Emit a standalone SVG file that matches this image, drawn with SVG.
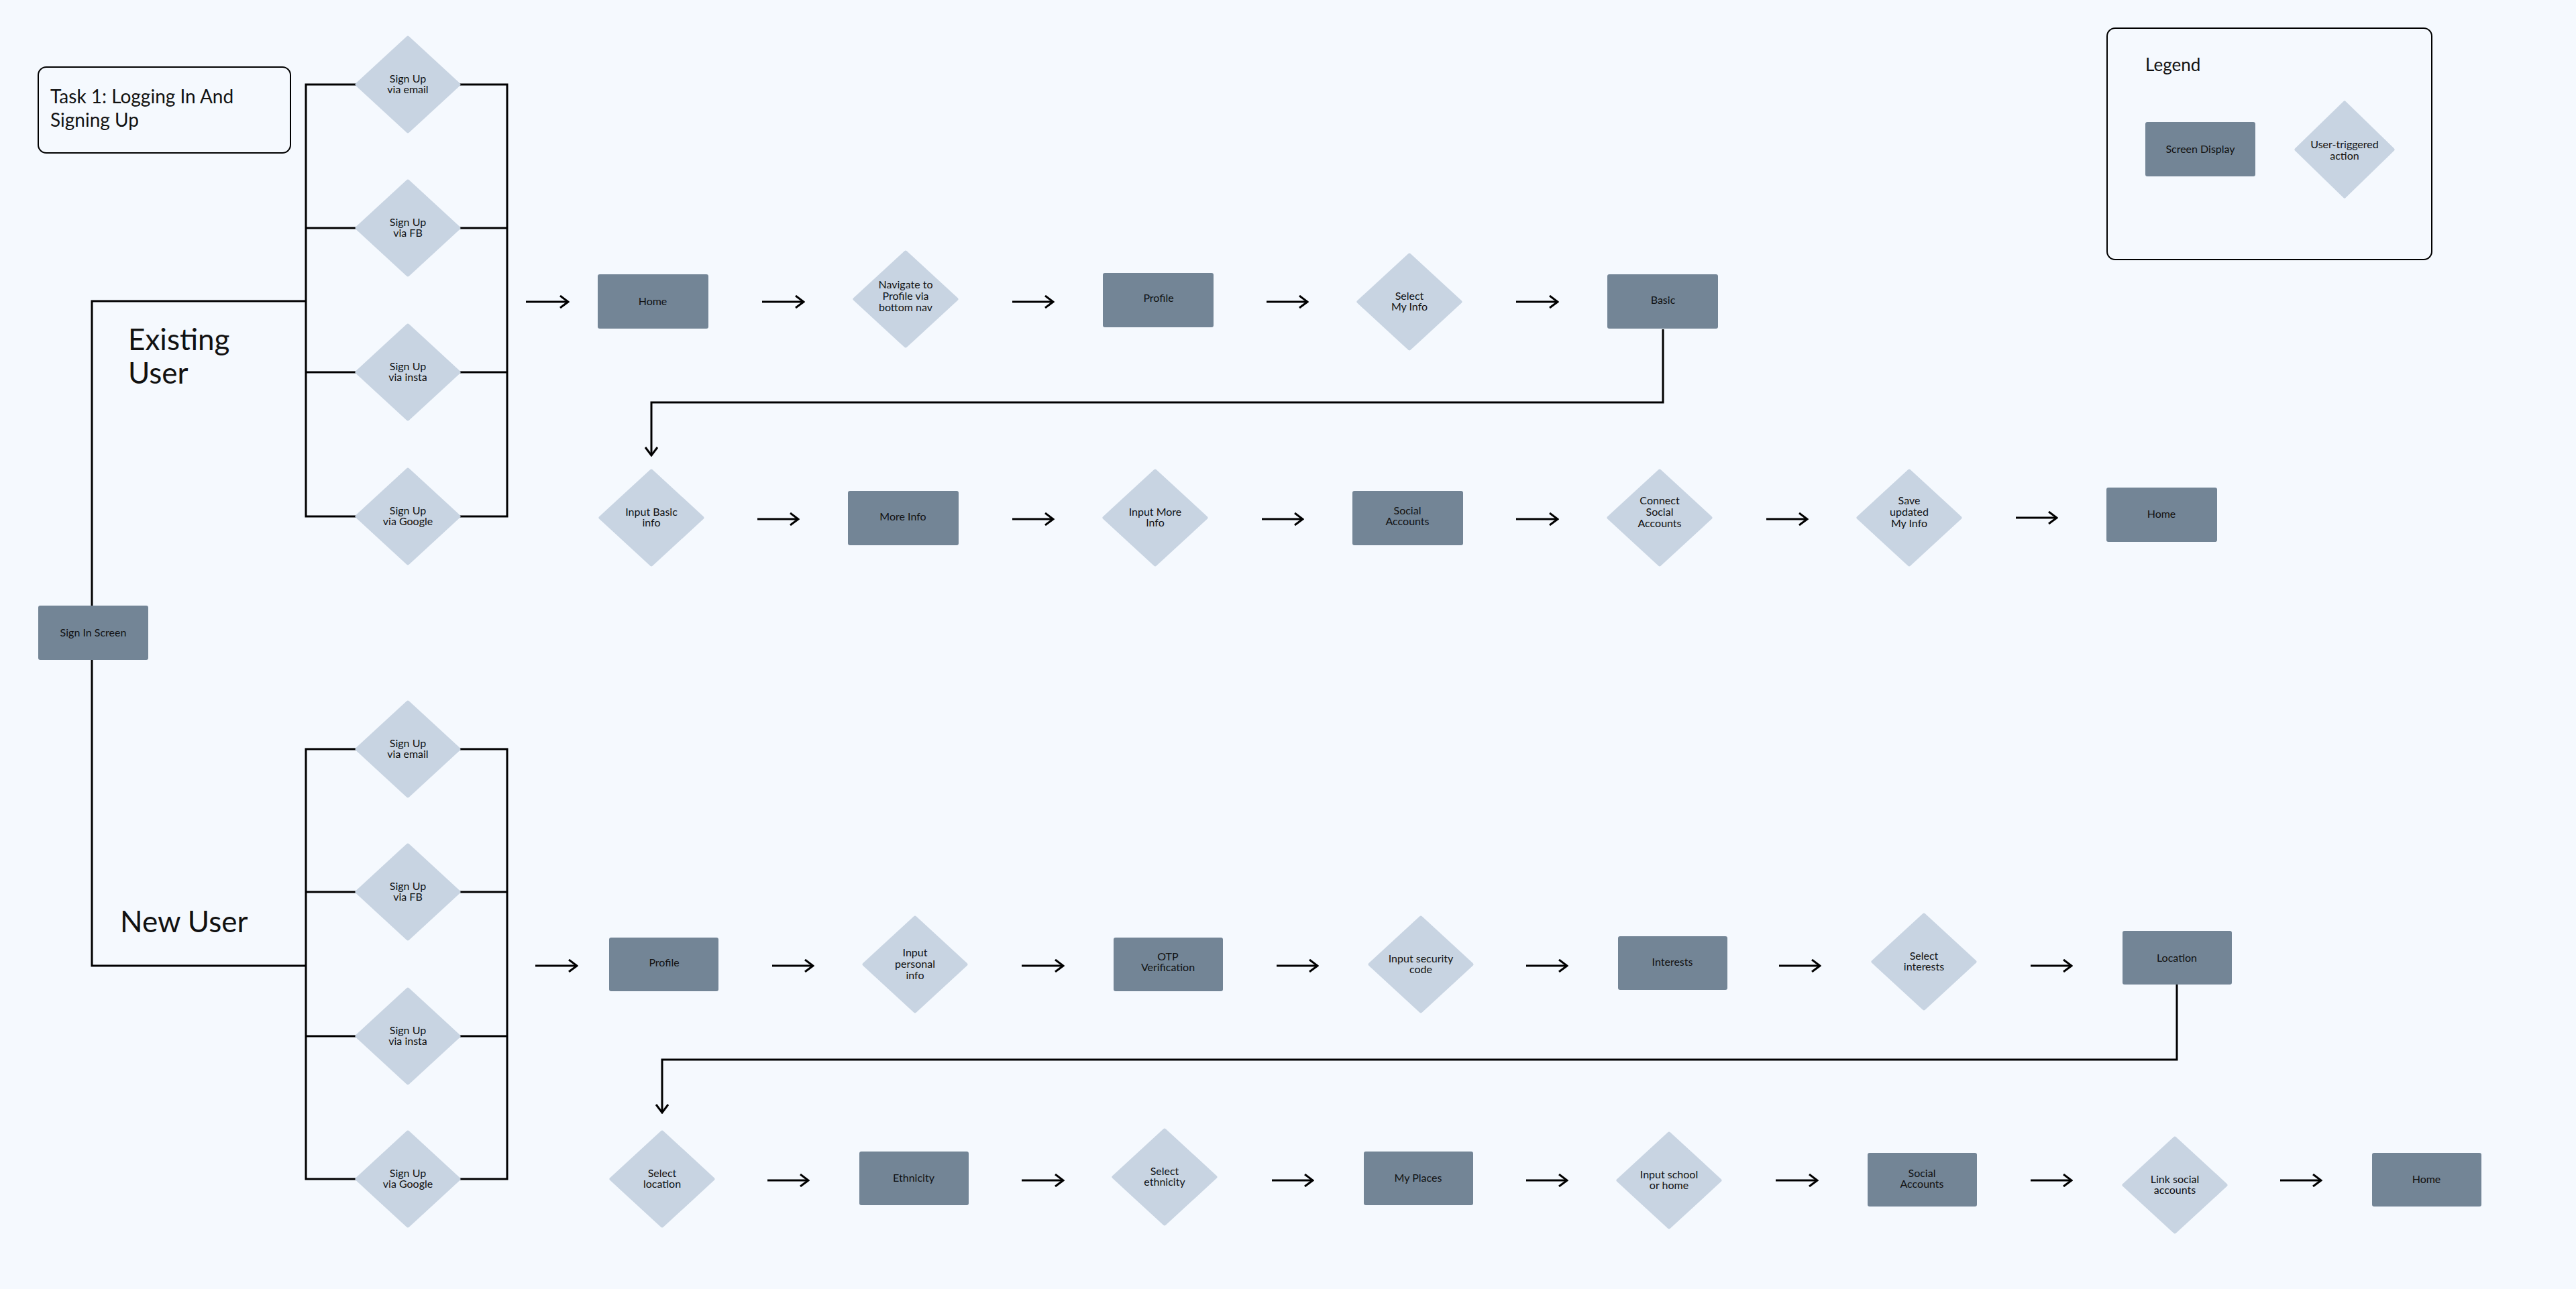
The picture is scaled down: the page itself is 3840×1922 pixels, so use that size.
<svg xmlns="http://www.w3.org/2000/svg" width="3840" height="1922" viewBox="0 0 3840 1922">
<defs>
<marker id="ah" viewBox="0 0 20 20" refX="18" refY="10" markerWidth="20" markerHeight="20" markerUnits="userSpaceOnUse" orient="auto">
<polyline points="6,1 18,10 6,19" fill="none" stroke="#000" stroke-width="3"/>
</marker>
</defs>
<style>
text{font-family:"Lato","Noto Sans",sans-serif;fill:#111;}
.n{font-size:16px;text-anchor:middle;}
.r{fill:#738596;}
.d{fill:#C8D4E2;stroke:#C8D4E2;stroke-width:5;stroke-linejoin:round;}
.c{fill:none;stroke:#000;stroke-width:3;}
.a{fill:none;stroke:#000;stroke-width:3;marker-end:url(#ah);}
.big{font-size:44px;}
</style>
<rect width="3840" height="1922" fill="#F5F9FE"/>

<g id="task"><rect x="57" y="100" width="376" height="128" rx="12" fill="none" stroke="#000" stroke-width="2"/>
<text x="75" y="154" font-size="28">Task 1: Logging In And</text><text x="75" y="189" font-size="28">Signing Up</text></g>

<g id="legend"><rect x="3141" y="42" width="484" height="345" rx="12" fill="none" stroke="#000" stroke-width="2"/>
<text x="3198" y="106" font-size="26">Legend</text>
<rect class="r" x="3198" y="182" width="164" height="81" rx="3"/><text class="n" x="3280" y="228">Screen Display</text>
<polygon class="d" points="3495,153 3567,223 3495,293 3423,223"/><text class="n" x="3495" y="221">User-triggered</text><text class="n" x="3495" y="238">action</text></g>

<g id="labels"><text class="big" x="191" y="522">Existing</text><text class="big" x="191" y="572">User</text>
<text class="big" x="179" y="1390">New User</text></g>

<g id="connectors">
<polyline class="c" points="137,903 137,449 456,449"/>
<polyline class="c" points="137,984 137,1440 456,1440"/>
<polyline class="c" points="532,126 456,126 456,770 532,770"/>
<line class="c" x1="456" y1="340" x2="532" y2="340"/><line class="c" x1="456" y1="555" x2="532" y2="555"/>
<polyline class="c" points="684,126 756,126 756,770 684,770"/>
<line class="c" x1="684" y1="340" x2="756" y2="340"/><line class="c" x1="684" y1="555" x2="756" y2="555"/>
<polyline class="c" points="532,1117 456,1117 456,1758 532,1758"/>
<line class="c" x1="456" y1="1330" x2="532" y2="1330"/><line class="c" x1="456" y1="1545" x2="532" y2="1545"/>
<polyline class="c" points="684,1117 756,1117 756,1758 684,1758"/>
<line class="c" x1="684" y1="1330" x2="756" y2="1330"/><line class="c" x1="684" y1="1545" x2="756" y2="1545"/>
<line class="a" x1="784" y1="450" x2="847" y2="450"/>
<line class="a" x1="1136" y1="450" x2="1198" y2="450"/>
<line class="a" x1="1509" y1="450" x2="1570" y2="450"/>
<line class="a" x1="1888" y1="450" x2="1949" y2="450"/>
<line class="a" x1="2260" y1="450" x2="2322" y2="450"/>
<polyline class="a" points="2479,491 2479,600 971,600 971,679"/>
<line class="a" x1="1129" y1="774" x2="1190" y2="774"/>
<line class="a" x1="1509" y1="774" x2="1570" y2="774"/>
<line class="a" x1="1881" y1="774" x2="1942" y2="774"/>
<line class="a" x1="2260" y1="774" x2="2322" y2="774"/>
<line class="a" x1="2633" y1="774" x2="2694" y2="774"/>
<line class="a" x1="3005" y1="772" x2="3066" y2="772"/>
<line class="a" x1="798" y1="1440" x2="860" y2="1440"/>
<line class="a" x1="1151" y1="1440" x2="1212" y2="1440"/>
<line class="a" x1="1523" y1="1440" x2="1585" y2="1440"/>
<line class="a" x1="1903" y1="1440" x2="1964" y2="1440"/>
<line class="a" x1="2275" y1="1440" x2="2336" y2="1440"/>
<line class="a" x1="2652" y1="1440" x2="2713" y2="1440"/>
<line class="a" x1="3027" y1="1440" x2="3088" y2="1440"/>
<polyline class="a" points="3245,1468 3245,1580 987,1580 987,1659"/>
<line class="a" x1="1144" y1="1760" x2="1205" y2="1760"/>
<line class="a" x1="1523" y1="1760" x2="1585" y2="1760"/>
<line class="a" x1="1896" y1="1760" x2="1957" y2="1760"/>
<line class="a" x1="2275" y1="1760" x2="2336" y2="1760"/>
<line class="a" x1="2647" y1="1760" x2="2709" y2="1760"/>
<line class="a" x1="3027" y1="1760" x2="3088" y2="1760"/>
<line class="a" x1="3399" y1="1760" x2="3460" y2="1760"/>
</g>

<g id="signin"><rect class="r" x="57" y="903" width="164" height="81" rx="3"/><text class="n" x="139" y="949">Sign In Screen</text></g>

<g id="e1"><polygon class="d" points="608,56 684,126 608,196 532,126"/><text class="n" x="608" y="123">Sign Up</text><text class="n" x="608" y="139">via email</text></g>
<g id="e2"><polygon class="d" points="608,270 684,340 608,410 532,340"/><text class="n" x="608" y="337">Sign Up</text><text class="n" x="608" y="353">via FB</text></g>
<g id="e3"><polygon class="d" points="608,485 684,555 608,625 532,555"/><text class="n" x="608" y="552">Sign Up</text><text class="n" x="608" y="568">via insta</text></g>
<g id="e4"><polygon class="d" points="608,700 684,770 608,840 532,770"/><text class="n" x="608" y="767">Sign Up</text><text class="n" x="608" y="783">via Google</text></g>
<g id="n1"><polygon class="d" points="608,1047 684,1117 608,1187 532,1117"/><text class="n" x="608" y="1114">Sign Up</text><text class="n" x="608" y="1130">via email</text></g>
<g id="n2"><polygon class="d" points="608,1260 684,1330 608,1400 532,1330"/><text class="n" x="608" y="1327">Sign Up</text><text class="n" x="608" y="1343">via FB</text></g>
<g id="n3"><polygon class="d" points="608,1475 684,1545 608,1615 532,1545"/><text class="n" x="608" y="1542">Sign Up</text><text class="n" x="608" y="1558">via insta</text></g>
<g id="n4"><polygon class="d" points="608,1688 684,1758 608,1828 532,1758"/><text class="n" x="608" y="1755">Sign Up</text><text class="n" x="608" y="1771">via Google</text></g>

<g id="r1a"><rect class="r" x="891" y="409" width="165" height="81" rx="3"/><text class="n" x="973" y="455">Home</text></g>
<g id="r1b"><polygon class="d" points="1350,376 1426,446 1350,516 1274,446"/><text class="n" x="1350" y="430">Navigate to</text><text class="n" x="1350" y="447">Profile via</text><text class="n" x="1350" y="464">bottom nav</text></g>
<g id="r1c"><rect class="r" x="1644" y="407" width="165" height="81" rx="3"/><text class="n" x="1727" y="450">Profile</text></g>
<g id="r1d"><polygon class="d" points="2101,380 2177,450 2101,520 2025,450"/><text class="n" x="2101" y="447">Select</text><text class="n" x="2101" y="463">My Info</text></g>
<g id="r1e"><rect class="r" x="2396" y="409" width="165" height="81" rx="3"/><text class="n" x="2479" y="453">Basic</text></g>

<g id="r2a"><polygon class="d" points="971,702 1047,772 971,842 895,772"/><text class="n" x="971" y="769">Input Basic</text><text class="n" x="971" y="785">info</text></g>
<g id="r2b"><rect class="r" x="1264" y="732" width="165" height="81" rx="3"/><text class="n" x="1346" y="776">More Info</text></g>
<g id="r2c"><polygon class="d" points="1722,702 1798,772 1722,842 1646,772"/><text class="n" x="1722" y="769">Input More</text><text class="n" x="1722" y="785">Info</text></g>
<g id="r2d"><rect class="r" x="2016" y="732" width="165" height="81" rx="3"/><text class="n" x="2098" y="767">Social</text><text class="n" x="2098" y="783">Accounts</text></g>
<g id="r2e"><polygon class="d" points="2474,702 2550,772 2474,842 2398,772"/><text class="n" x="2474" y="752">Connect</text><text class="n" x="2474" y="769">Social</text><text class="n" x="2474" y="786">Accounts</text></g>
<g id="r2f"><polygon class="d" points="2846,702 2922,772 2846,842 2770,772"/><text class="n" x="2846" y="752">Save</text><text class="n" x="2846" y="769">updated</text><text class="n" x="2846" y="786">My Info</text></g>
<g id="r2g"><rect class="r" x="3140" y="727" width="165" height="81" rx="3"/><text class="n" x="3222" y="772">Home</text></g>

<g id="r3a"><rect class="r" x="908" y="1398" width="163" height="80" rx="3"/><text class="n" x="990" y="1441">Profile</text></g>
<g id="r3b"><polygon class="d" points="1364,1368 1440,1438 1364,1508 1288,1438"/><text class="n" x="1364" y="1426">Input</text><text class="n" x="1364" y="1443">personal</text><text class="n" x="1364" y="1460">info</text></g>
<g id="r3c"><rect class="r" x="1660" y="1398" width="163" height="80" rx="3"/><text class="n" x="1741" y="1432">OTP</text><text class="n" x="1741" y="1448">Verification</text></g>
<g id="r3d"><polygon class="d" points="2118,1368 2194,1438 2118,1508 2042,1438"/><text class="n" x="2118" y="1435">Input security</text><text class="n" x="2118" y="1451">code</text></g>
<g id="r3e"><rect class="r" x="2412" y="1396" width="163" height="80" rx="3"/><text class="n" x="2493" y="1440">Interests</text></g>
<g id="r3f"><polygon class="d" points="2868,1364 2944,1434 2868,1504 2792,1434"/><text class="n" x="2868" y="1431">Select</text><text class="n" x="2868" y="1447">interests</text></g>
<g id="r3g"><rect class="r" x="3164" y="1388" width="163" height="80" rx="3"/><text class="n" x="3245" y="1434">Location</text></g>

<g id="r4a"><polygon class="d" points="987,1688 1063,1758 987,1828 911,1758"/><text class="n" x="987" y="1755">Select</text><text class="n" x="987" y="1771">location</text></g>
<g id="r4b"><rect class="r" x="1281" y="1717" width="163" height="80" rx="3"/><text class="n" x="1362" y="1762">Ethnicity</text></g>
<g id="r4c"><polygon class="d" points="1736,1685 1812,1755 1736,1825 1660,1755"/><text class="n" x="1736" y="1752">Select</text><text class="n" x="1736" y="1768">ethnicity</text></g>
<g id="r4d"><rect class="r" x="2033" y="1717" width="163" height="80" rx="3"/><text class="n" x="2114" y="1762">My Places</text></g>
<g id="r4e"><polygon class="d" points="2488,1690 2564,1760 2488,1830 2412,1760"/><text class="n" x="2488" y="1757">Input school</text><text class="n" x="2488" y="1773">or home</text></g>
<g id="r4f"><rect class="r" x="2784" y="1719" width="163" height="80" rx="3"/><text class="n" x="2865" y="1755">Social</text><text class="n" x="2865" y="1771">Accounts</text></g>
<g id="r4g"><polygon class="d" points="3242,1697 3318,1767 3242,1837 3166,1767"/><text class="n" x="3242" y="1764">Link social</text><text class="n" x="3242" y="1780">accounts</text></g>
<g id="r4h"><rect class="r" x="3536" y="1719" width="163" height="80" rx="3"/><text class="n" x="3617" y="1764">Home</text></g>
</svg>
